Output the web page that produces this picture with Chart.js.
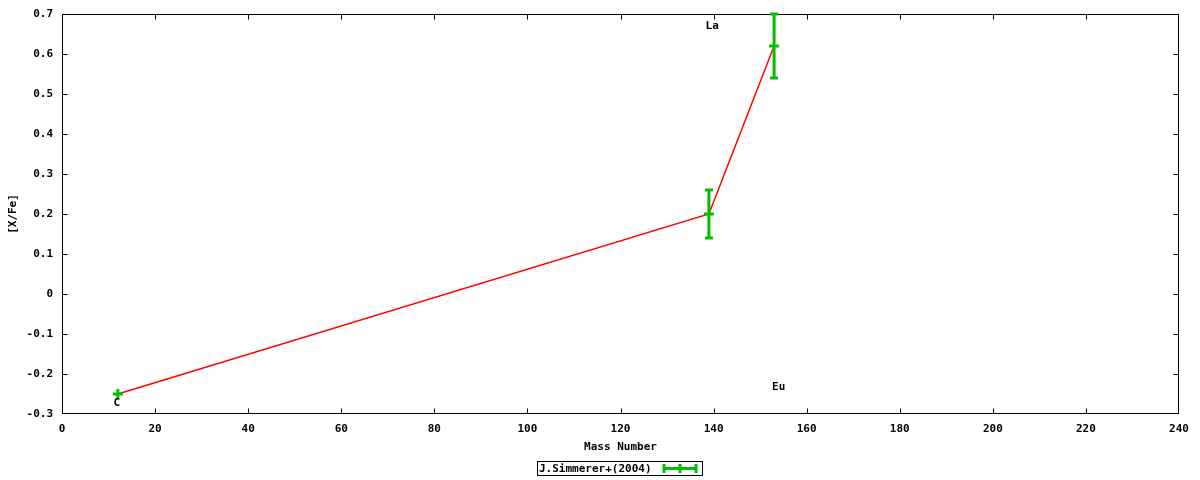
<!DOCTYPE html>
<html>
<head>
<meta charset="utf-8">
<script src="https://cdn.jsdelivr.net/npm/chart.js@4.4.0/dist/chart.umd.min.js"></script>
<style>
html,body{margin:0;padding:0;background:#fff;}
#wrap{width:1200px;height:480px;position:relative;}
</style>
</head>
<body>
<div id="wrap"><canvas id="c" width="1200" height="480"></canvas></div>
<script>
// ---- data ----
const elements = ["C", "La", "Eu"];
const massNumbers = [12, 139, 153];
const xfeValues = [-0.25, 0.20, 0.62];
const xfeErrors = [0.0, 0.06, 0.08];
const labelX = [11.8, 139.7, 154.0];
const labelY = [-0.272, 0.67, -0.233];
const xTicks = [0, 20, 40, 60, 80, 100, 120, 140, 160, 180, 200, 220, 240];
const yTicks = [-0.3, -0.2, -0.1, 0, 0.1, 0.2, 0.3, 0.4, 0.5, 0.6, 0.7];
const seriesName = "J.Simmerer+(2004)";
const xTitle = "Mass Number";
const yTitle = "[X/Fe]";

const GREEN = '#00c000';
const RED = '#ff0000';
const FONT = 'bold 11px "DejaVu Sans Mono", "Liberation Mono", monospace';

const points = massNumbers.map((m, i) => ({x: m, y: xfeValues[i]}));

const overlay = {
  id: 'overlay',
  afterDatasetsDraw(chart) {
    const ctx = chart.ctx;
    const xs = chart.scales.x, ys = chart.scales.y;
    const a = chart.chartArea;
    ctx.save();
    // frame
    const fl = Math.round(a.left) + 0.5, ft = Math.round(a.top) + 0.5;
    const fr = fl + Math.round(a.right - a.left) - 1, fb = ft + Math.round(a.bottom - a.top) - 1;
    ctx.strokeStyle = '#000';
    ctx.lineWidth = 1;
    ctx.strokeRect(fl, ft, fr - fl, fb - ft);
    // inward ticks on all four sides
    ctx.beginPath();
    xTicks.forEach(v => {
      const px = Math.min(Math.max(Math.round(xs.getPixelForValue(v)) + 0.5, fl), fr);
      ctx.moveTo(px, fb); ctx.lineTo(px, fb - 5);
      ctx.moveTo(px, ft); ctx.lineTo(px, ft + 5);
    });
    yTicks.forEach(v => {
      const py = Math.min(Math.max(Math.round(ys.getPixelForValue(v)) + 0.5, ft), fb);
      ctx.moveTo(fl, py); ctx.lineTo(fl + 5, py);
      ctx.moveTo(fr, py); ctx.lineTo(fr - 5, py);
    });
    ctx.stroke();

    // error bars + plus markers
    ctx.strokeStyle = GREEN;
    ctx.lineWidth = 3;
    ctx.lineCap = 'butt';
    massNumbers.forEach((m, i) => {
      const px = xs.getPixelForValue(m);
      const py = ys.getPixelForValue(xfeValues[i]);
      const pTop = ys.getPixelForValue(xfeValues[i] + xfeErrors[i]);
      const pBot = ys.getPixelForValue(xfeValues[i] - xfeErrors[i]);
      ctx.beginPath();
      ctx.moveTo(px, pTop); ctx.lineTo(px, pBot);
      ctx.moveTo(px - 4, pTop); ctx.lineTo(px + 4, pTop);
      ctx.moveTo(px - 4, pBot); ctx.lineTo(px + 4, pBot);
      // plus marker
      ctx.moveTo(px - 5, py); ctx.lineTo(px + 5, py);
      ctx.moveTo(px, py - 5); ctx.lineTo(px, py + 5);
      ctx.stroke();
    });

    // element labels
    ctx.fillStyle = '#000';
    ctx.font = FONT;
    ctx.textAlign = 'center';
    ctx.textBaseline = 'middle';
    elements.forEach((e, i) => {
      ctx.fillText(e, xs.getPixelForValue(labelX[i]), ys.getPixelForValue(labelY[i]));
    });

    // axis titles
    ctx.fillText(xTitle, (a.left + a.right) / 2, 447);
    ctx.save();
    ctx.translate(13, 214);
    ctx.rotate(-Math.PI / 2);
    ctx.fillText(yTitle, 0, 0);
    ctx.restore();

    // legend
    ctx.strokeStyle = '#000';
    ctx.lineWidth = 1;
    ctx.strokeRect(537.5, 461.5, 165, 14);
    ctx.textAlign = 'left';
    ctx.fillText(seriesName, 539, 469);
    ctx.strokeStyle = GREEN;
    ctx.lineWidth = 3;
    ctx.beginPath();
    ctx.moveTo(663, 468.5); ctx.lineTo(697, 468.5);
    ctx.moveTo(664, 464); ctx.lineTo(664, 473);
    ctx.moveTo(696, 464); ctx.lineTo(696, 473);
    ctx.moveTo(680, 464); ctx.lineTo(680, 473);
    ctx.stroke();
    ctx.restore();
  }
};

new Chart(document.getElementById('c'), {
  type: 'line',
  data: {
    datasets: [{
      label: seriesName,
      data: points,
      borderColor: RED,
      borderWidth: 1.5,
      pointRadius: 0,
      fill: false,
      tension: 0
    }]
  },
  options: {
    responsive: false,
    animation: false,
    devicePixelRatio: 1,
    layout: {padding: {left: 0, right: 21, top: 14, bottom: 0}},
    plugins: {legend: {display: false}, tooltip: {enabled: false}},
    scales: {
      x: {
        type: 'linear', min: 0, max: 240,
        afterFit(s) { s.height = 66; s.paddingLeft = 0; s.paddingRight = 0; },
        afterBuildTicks(s) { s.ticks = xTicks.map(v => ({value: v})); },
        grid: {display: false, drawTicks: false},
        border: {display: false},
        ticks: {
          color: '#000', padding: 9, maxRotation: 0,
          font: {family: '"DejaVu Sans Mono", "Liberation Mono", monospace', size: 11, weight: 'bold'},
          callback: v => String(v)
        }
      },
      y: {
        type: 'linear', min: -0.3, max: 0.7,
        afterFit(s) { s.width = 62; s.paddingTop = 0; s.paddingBottom = 0; },
        afterBuildTicks(s) { s.ticks = yTicks.map(v => ({value: v})); },
        grid: {display: false, drawTicks: false},
        border: {display: false},
        ticks: {
          color: '#000', padding: 9,
          font: {family: '"DejaVu Sans Mono", "Liberation Mono", monospace', size: 11, weight: 'bold'},
          callback: v => (Math.abs(v) < 1e-9 ? '0' : (Math.round(v * 10) / 10).toString())
        }
      }
    }
  },
  plugins: [overlay]
});
</script>
</body>
</html>
